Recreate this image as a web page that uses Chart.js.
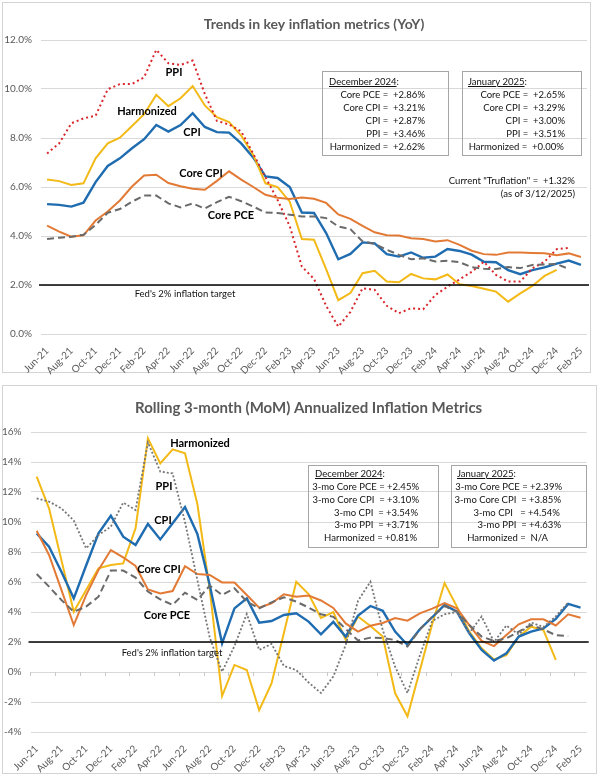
<!DOCTYPE html>
<html><head><meta charset="utf-8">
<script src="https://cdn.jsdelivr.net/npm/chart.js@4.4.1/dist/chart.umd.min.js"></script>
<style>
html,body{margin:0;padding:0;background:#fff;}
body{width:600px;height:778px;position:relative;overflow:hidden;font-family:Lato,'Open Sans',sans-serif;}
.frame{position:absolute;border:1px solid #d4d4d4;box-sizing:border-box;}
canvas{position:absolute;left:0;}
.lbl{position:absolute;font-weight:bold;font-size:11px;color:#000;white-space:nowrap;transform:translate(-50%,-50%);}
.fed{position:absolute;font-size:9.5px;color:#111;white-space:nowrap;transform:translate(-50%,-50%);}
.box{position:absolute;border:1px solid #a6a6a6;box-sizing:border-box;font-size:9.5px;color:#111;}
.box div{position:absolute;white-space:pre;line-height:12px;}
.note{position:absolute;font-size:9.5px;color:#111;white-space:pre;text-align:right;}
</style></head>
<body>
<div class="frame" style="left:2px;top:2px;width:589px;height:371px;"></div>
<div class="frame" style="left:2px;top:385px;width:595px;height:389px;"></div>
<canvas id="c1" width="600" height="376" style="top:0px"></canvas>
<canvas id="c2" width="600" height="398" style="top:380px"></canvas>

<!-- chart 1 annotations -->
<div class="lbl" style="left:174px;top:71px">PPI</div>
<div class="lbl" style="left:147px;top:110px">Harmonized</div>
<div class="lbl" style="left:192px;top:131px">CPI</div>
<div class="lbl" style="left:201px;top:172px">Core CPI</div>
<div class="lbl" style="left:231px;top:214px">Core PCE</div>
<div class="fed" style="left:185px;top:293px">Fed's 2% inflation target</div>

<div class="box" style="left:322px;top:71px;width:127px;height:85px">
 <div style="left:6px;top:4px"><u>December 2024</u>:</div>
 <div style="right:23px;top:17px">Core PCE =  +2.86%</div>
 <div style="right:23px;top:30px">Core CPI =  +3.21%</div>
 <div style="right:23px;top:43px">CPI =  +2.87%</div>
 <div style="right:23px;top:56px">PPI =  +3.46%</div>
 <div style="right:23px;top:69px">Harmonized =  +2.62%</div>
</div>
<div class="box" style="left:462px;top:71px;width:120px;height:85px">
 <div style="left:5px;top:4px"><u>January 2025</u>:</div>
 <div style="right:16px;top:17px">Core PCE =  +2.65%</div>
 <div style="right:16px;top:30px">Core CPI =  +3.29%</div>
 <div style="right:16px;top:43px">CPI =  +3.00%</div>
 <div style="right:16px;top:56px">PPI =  +3.51%</div>
 <div style="right:17px;top:69px">Harmonized =  +0.00%</div>
</div>
<div class="note" style="right:25px;top:174px;line-height:13px">Current "Truflation" =  +1.32%
(as of 3/12/2025)</div>

<!-- chart 2 annotations -->
<div class="lbl" style="left:200px;top:442px">Harmonized</div>
<div class="lbl" style="left:164px;top:485px">PPI</div>
<div class="lbl" style="left:163px;top:519px">CPI</div>
<div class="lbl" style="left:159px;top:568px">Core CPI</div>
<div class="lbl" style="left:167px;top:614px">Core PCE</div>
<div class="fed" style="left:172px;top:652px">Fed's 2% inflation target</div>

<div class="box" style="left:308px;top:465px;width:131px;height:83px">
 <div style="left:6px;top:2px"><u>December 2024</u>:</div>
 <div style="right:19px;top:15px">3-mo Core PCE = +2.45%</div>
 <div style="right:19px;top:28px">3-mo Core CPI  = +3.10%</div>
 <div style="right:20px;top:41px">3-mo CPI  = +3.54%</div>
 <div style="right:20px;top:53px">3-mo PPI  = +3.71%</div>
 <div style="right:21px;top:66px">Harmonized = +0.81%</div>
</div>
<div class="box" style="left:451px;top:465px;width:136px;height:83px">
 <div style="left:5px;top:2px"><u>January 2025</u>:</div>
 <div style="right:24px;top:15px">3-mo Core PCE = +2.39%</div>
 <div style="right:25px;top:28px">3-mo Core CPI  = +3.85%</div>
 <div style="right:26px;top:41px">3-mo CPI   = +4.54%</div>
 <div style="right:25px;top:53px">3-mo PPI  = +4.63%</div>
 <div style="right:38px;top:66px">Harmonized =  N/A</div>
</div>

<script>
const months = ['Jun-21','Jul-21','Aug-21','Sep-21','Oct-21','Nov-21','Dec-21','Jan-22','Feb-22','Mar-22','Apr-22','May-22','Jun-22','Jul-22','Aug-22','Sep-22','Oct-22','Nov-22','Dec-22','Jan-23','Feb-23','Mar-23','Apr-23','May-23','Jun-23','Jul-23','Aug-23','Sep-23','Oct-23','Nov-23','Dec-23','Jan-24','Feb-24','Mar-24','Apr-24','May-24','Jun-24','Jul-24','Aug-24','Sep-24','Oct-24','Nov-24','Dec-24','Jan-25','Feb-25'];

// Chart 1: YoY (%)
const yoyCPI = [5.3,5.27,5.2,5.36,6.2,6.86,7.17,7.58,7.95,8.53, 8.26,8.53,9.01,8.45,8.24,8.22,7.78,7.2,6.43,6.37, 6.0,4.96,4.94,4.12,3.05,3.27,3.74,3.7,3.26,3.16, 3.33,3.11,3.16,3.47,3.39,3.24,2.95,2.93,2.61,2.44, 2.61,2.72,2.87,3.00,2.82];
const yoyCoreCPI = [4.42,4.18,3.97,4.03,4.63,5.0,5.45,6.02,6.47,6.5, 6.16,6.03,5.93,5.89,6.25,6.64,6.3,6.0,5.68,5.56, 5.51,5.57,5.52,5.35,4.88,4.7,4.41,4.15,4.03,4.02, 3.91,3.88,3.78,3.83,3.64,3.4,3.26,3.23,3.33,3.33, 3.31,3.3,3.21,3.29,3.14];
const yoyCorePCE = [3.88,3.93,3.97,4.05,4.45,4.95,5.1,5.4,5.65,5.65, 5.33,5.17,5.33,5.12,5.38,5.6,5.42,5.2,4.96,4.94, 4.87,4.8,4.8,4.73,4.39,4.28,3.78,3.68,3.44,3.23, 3.05,3.09,2.96,2.99,2.93,2.73,2.66,2.65,2.73,2.69, 2.82,2.84,2.86,2.65,null];
const yoyPPI = [7.37,7.78,8.6,8.8,8.91,9.99,10.2,10.2,10.48,11.6, 11.05,10.98,11.16,9.8,8.7,8.55,8.27,7.35,6.4,5.47, 4.4,2.75,2.25,1.15,0.3,0.9,1.87,1.8,1.15,0.85, 1.05,1.01,1.59,1.93,2.23,2.54,2.95,2.41,2.14,2.14, 2.68,2.95,3.46,3.51,null];
const yoyHarmonized = [6.31,6.24,6.08,6.15,7.17,7.78,8.01,8.49,8.97,9.76, 9.3,9.62,10.12,9.33,8.85,8.65,8.1,7.3,6.15,6.0, 5.4,3.88,3.85,2.65,1.38,1.67,2.48,2.58,2.14,2.11, 2.45,2.27,2.23,2.43,2.03,1.96,1.85,1.73,1.32,1.66, 1.96,2.37,2.62,null,null];

// Chart 2: rolling 3-month annualized (%)
const momCPI = [9.24,8.36,6.69,4.91,7.1,9.24,10.42,9.02,8.47,9.87, 8.84,9.91,11.0,9.2,5.8,1.91,4.24,4.91,3.29,3.4, 3.8,3.91,3.36,2.51,3.34,2.36,3.77,4.4,4.08,2.69, 1.8,2.85,3.65,4.47,4.02,2.58,1.47,0.76,1.24,2.36, 2.69,2.91,3.54,4.54,4.29];
const momCoreCPI = [9.42,7.8,5.47,3.13,5.13,6.8,8.13,7.64,7.07,5.51, 5.24,5.4,7.05,6.53,6.47,5.97,5.97,5.13,4.29,4.58, 5.18,5.02,5.1,4.77,4.27,3.24,2.69,3.08,3.27,3.6, 3.42,3.91,4.22,4.6,4.24,3.13,2.07,1.73,2.47,3.18, 3.51,3.51,3.10,3.85,3.62];
const momCorePCE = [6.53,5.69,4.8,4.02,4.36,5.02,6.76,6.76,6.29,5.36, 4.84,4.47,5.29,4.8,5.76,5.13,5.58,4.69,4.24,4.64, 4.98,4.69,4.3,3.85,3.68,2.87,2.1,2.29,2.27,2.13, 1.7,2.84,3.69,4.4,4.02,3.13,2.36,2.07,2.24,2.69, 3.13,2.84,2.45,2.39,null];
const momPPI = [11.58,11.36,10.91,10.1,8.24,9.13,9.69,11.29,10.8,15.3, 13.36,13.24,10.0,6.13,2.3,0.02,1.73,3.87,1.47,1.87, 0.4,0.13,-0.7,-1.4,-0.3,1.8,4.75,6.02,2.8,0.35, -1.4,1.1,3.4,3.85,4.0,2.6,3.7,2.0,3.1,2.5, 3.3,3.0,3.71,4.63,null];
const momHarmonized = [13.02,10.91,7.47,4.02,5.47,6.91,7.13,7.24,9.58,15.58, 13.91,14.84,14.58,11.2,5.5,-1.6,0.47,0.13,-2.55,-0.76, 2.6,6.02,5.2,3.6,4.0,2.15,3.7,3.07,2.36,-1.42, -2.95,0.1,3.2,5.93,4.36,2.69,1.58,0.84,1.13,2.36, 3.02,2.8,0.81,null,null];

const fedTarget = 2;
const yoyAxis = {min:0, max:12, step:2};
const momAxis = {min:-4, max:16, step:2};

const C = {cpi:'#1f6cb0', core:'#e27a35', pce:'#6a6a6a', ppiRed:'#d9262b', ppiGray:'#767676', harm:'#f3b916'};
const FONT = 'Lato, "Open Sans", sans-serif';

const targetPlugin = {
  id:'fedTarget',
  beforeDatasetsDraw(chart){
    const o = chart.options.plugins.fedTarget || {};
    const ctx = chart.ctx, xs = chart.scales.x, ys = chart.scales.y;
    if (o.zeroTicks){
      const y0 = ys.getPixelForValue(0);
      const step = (xs.getPixelForValue(1) - xs.getPixelForValue(0));
      ctx.save(); ctx.strokeStyle='#c8c8c8'; ctx.lineWidth=1;
      ctx.beginPath();
      for (let i=0;i<=months.length;i+=2){
        const x = Math.round(xs.getPixelForValue(i) - step/2)+0.5;
        ctx.moveTo(x,y0); ctx.lineTo(x,y0+4);
      }
      ctx.stroke(); ctx.restore();
    }
  },
  afterDatasetsDraw(chart){
    const ctx = chart.ctx, a = chart.chartArea, ys = chart.scales.y;
    const y = Math.round(ys.getPixelForValue(fedTarget));
    ctx.save(); ctx.strokeStyle='#000'; ctx.lineWidth=1.6;
    ctx.beginPath(); ctx.moveTo(a.left-2,y); ctx.lineTo(a.right+2,y); ctx.stroke(); ctx.restore();
  }
};

function ds(data,color,width,dash){
  return {data, borderColor:color, backgroundColor:color, borderWidth:width, borderDash:dash||[], pointRadius:0, pointHoverRadius:0, tension:0, fill:false, spanGaps:false};
}

function opts(cfg){
  return {
    responsive:false, animation:false, devicePixelRatio:1,
    layout:{padding:{left:0,right:cfg.padRight,top:0,bottom:0}},
    plugins:{
      legend:{display:false}, tooltip:{enabled:false},
      fedTarget:{zeroTicks:cfg.zeroTicks},
      title:{display:true, fullSize:false, text:cfg.title, color:'#595959', font:{family:FONT,size:cfg.titleSize,weight:'bold'}, padding:{top:cfg.titleTop,bottom:cfg.titleBottom}}
    },
    scales:{
      x:{offset:true, grid:{display:false}, border:{display:false},
         ticks:{autoSkip:false, minRotation:45, maxRotation:45, padding:3, color:'#595959', font:{family:FONT,size:10},
                callback:(v,i)=> (i%2===0 ? months[i] : '')},
         afterFit:(s)=>{s.height=cfg.xH;}},
      y:{min:cfg.axis.min, max:cfg.axis.max,
         ticks:{stepSize:cfg.axis.step, padding:9, color:'#595959', font:{family:FONT,size:10}, callback:cfg.fmt},
         grid:{color:'#d9d9d9', drawTicks:false, lineWidth:1}, border:{display:false},
         afterFit:(s)=>{s.width=cfg.yW;}}
    }
  };
}

new Chart(document.getElementById('c1'), {
  type:'line',
  data:{labels:months, datasets:[
    ds(yoyCorePCE, C.pce, 2, [7,4]),
    ds(yoyCoreCPI, C.core, 2),
    ds(yoyPPI, C.ppiRed, 2, [2,3]),
    ds(yoyHarmonized, C.harm, 2),
    ds(yoyCPI, C.cpi, 2.4)
  ]},
  options: opts({title:'Trends in key inflation metrics (YoY)', titleSize:14, titleTop:15.6, titleBottom:7.6, xH:42, yW:41, padRight:13,
                 axis:yoyAxis, fmt:(v)=>v.toFixed(1)+'%', zeroTicks:false}),
  plugins:[targetPlugin]
});

new Chart(document.getElementById('c2'), {
  type:'line',
  data:{labels:months, datasets:[
    ds(momPPI, C.ppiGray, 1.8, [2,2]),
    ds(momCorePCE, C.pce, 2, [7,4]),
    ds(momCoreCPI, C.core, 2),
    ds(momCPI, C.cpi, 2.4),
    ds(momHarmonized, C.harm, 2)
  ]},
  options: opts({title:'Rolling 3-month (MoM) Annualized Inflation Metrics', titleSize:15, titleTop:19, titleBottom:15, xH:46, yW:30.5, padRight:13.3,
                 axis:momAxis, fmt:(v)=>v+'%', zeroTicks:true}),
  plugins:[targetPlugin]
});
</script>
</body></html>
